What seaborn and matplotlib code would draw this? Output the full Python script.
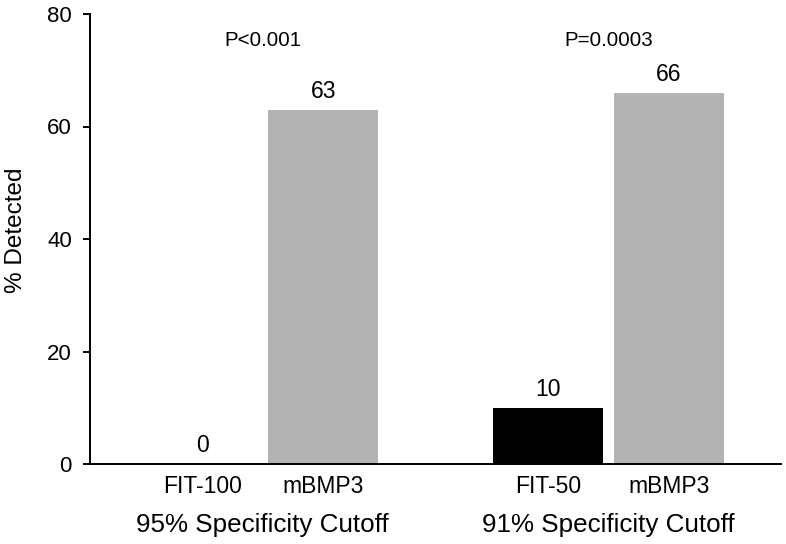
import matplotlib
matplotlib.use("Agg")
import matplotlib.pyplot as plt
import matplotlib.transforms as mtransforms
import seaborn as sns
import pandas as pd

# ---- data ----
cutoffs = ["95% Specificity Cutoff", "91% Specificity Cutoff"]
tests = ["FIT", "mBMP3"]
fit_values = [0, 10]
mbmp3_values = [63, 66]
bar_labels = [["FIT-100", "FIT-50"], ["mBMP3", "mBMP3"]]  # per test, per cutoff
p_values = ["P<0.001", "P=0.0003"]
y_ticks = [0, 20, 40, 60, 80]

df = pd.DataFrame({
    "cutoff": cutoffs * 2,
    "test": [tests[0]] * 2 + [tests[1]] * 2,
    "value": fit_values + mbmp3_values,
})

sns.set_theme(style="white")
plt.rcParams["font.family"] = ["Liberation Sans", "DejaVu Sans"]

fig = plt.figure(figsize=(7.86, 5.44), dpi=100)
ax = fig.add_axes([90 / 786, 80 / 544, 691 / 786, 450 / 544])

sns.barplot(data=df, x="cutoff", y="value", hue="test", order=cutoffs,
            hue_order=tests, palette={"FIT": "#000000", "mBMP3": "#B3B3B3"},
            width=0.7, gap=0.09, ax=ax, legend=False, errorbar=None,
            saturation=1, linewidth=0)

ax.set_ylim(0, 80)
ax.set_yticks(y_ticks)
ax.tick_params(axis="y", labelsize=16, length=5, width=1.4, direction="out",
               left=True, pad=8, colors="black")
for s in ["top", "right"]:
    ax.spines[s].set_visible(False)
for s in ["left", "bottom"]:
    ax.spines[s].set_linewidth(1.4)
    ax.spines[s].set_color("black")
ax.set_ylabel("")
ax.set_xlabel("")

# value labels
for cont in ax.containers:
    ax.bar_label(cont, fmt="%g", padding=5, fontsize=16.5, color="black")

# x tick labels under each bar, from bar positions
centers = []
labels = []
for ti, cont in enumerate(ax.containers):
    for ci, patch in enumerate(cont.patches):
        centers.append(patch.get_x() + patch.get_width() / 2)
        labels.append(bar_labels[ti][ci])
ax.set_xticks(centers)
ax.set_xticklabels(labels, fontsize=16.5, color="black")
ax.tick_params(axis="x", length=0, pad=8)

# group labels and p-values
trans = mtransforms.blended_transform_factory(ax.transData, ax.transAxes)
for i, c in enumerate(cutoffs):
    ax.text(i, -0.151, c, transform=trans, ha="center", va="baseline",
            fontsize=18.7, color="black")
    ax.text(i, 74.3, p_values[i], ha="center", va="baseline",
            fontsize=14.8, color="black")

fig.text(16 / 786, 1 - 230 / 544, "% Detected", rotation=90, ha="center",
         va="center", fontsize=17.5, color="black")

fig.savefig("out.png", dpi=100)
